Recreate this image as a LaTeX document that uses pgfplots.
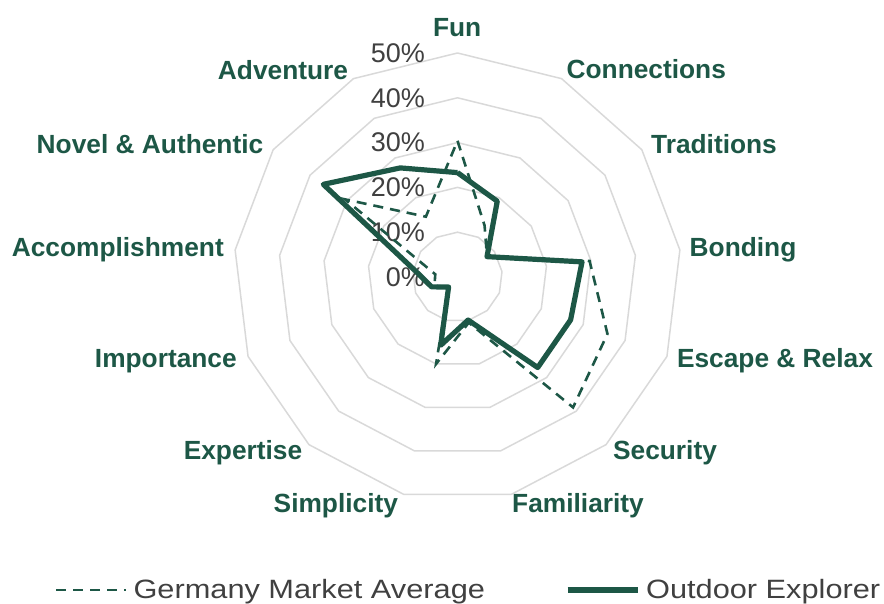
\documentclass[border=0pt]{standalone}
\usepackage{pgfplots}
\pgfplotsset{compat=1.18}
\usepackage{pgfplotstable}
\usepackage{fontspec}
\setmainfont{Liberation Sans}
\newfontfamily\legendfont[FakeStretch=1.16]{Liberation Sans}
\definecolor{dgreen}{RGB}{29,87,70}
\definecolor{gridgray}{RGB}{217,217,217}
\definecolor{txtgray}{RGB}{64,64,64}

% angle (deg), Germany Market Average (%), Outdoor Explorer (%)
\pgfplotstableread{
ang     germany outdoor
90      30.4    23.3
62.31   13.0    19.1
34.62   8.0     8.0
6.92    29.7    28.0
-20.77  35.8    27.0
-48.46  38.9    27.0
-76.15  10.5    9.9
-103.85 20.0    15.7
-131.54 3.0     3.0
-159.23 5.5     6.2
-186.92 5.0     9.2
-214.62 30.5    36.4
-242.31 15.2    27.5
-270    30.4    23.3
}\radardata

\begin{document}
\begin{tikzpicture}
\begin{axis}[
  x=4.48pt, y=4.48pt,
  xmin=-102.12, xmax=95.20, ymin=-72.77, ymax=61.83,
  axis lines=none, ticks=none, clip=false,
  legend columns=2,
  legend style={draw=none, fill=none, at={(0.0622,0.0216)}, anchor=west,
    inner sep=0pt, outer sep=0pt,
    nodes={inner sep=0pt, text=txtgray},
    font=\legendfont\fontsize{26.5}{30}\selectfont,
    /tikz/every odd column/.append style={column sep=6pt},
    /tikz/every even column/.append style={column sep=80pt}},
  legend image code/.code={\draw[#1] (0pt,0pt) -- (70pt,0pt);},
]
% polygonal grid rings
\addplot[gridgray, line width=1.5pt, data cs=polar, forget plot] coordinates {(90,10) (62.31,10) (34.62,10) (6.92,10) (-20.77,10) (-48.46,10) (-76.15,10) (-103.85,10) (-131.54,10) (-159.23,10) (-186.92,10) (-214.62,10) (-242.31,10) (-270,10)};
\addplot[gridgray, line width=1.5pt, data cs=polar, forget plot] coordinates {(90,20) (62.31,20) (34.62,20) (6.92,20) (-20.77,20) (-48.46,20) (-76.15,20) (-103.85,20) (-131.54,20) (-159.23,20) (-186.92,20) (-214.62,20) (-242.31,20) (-270,20)};
\addplot[gridgray, line width=1.5pt, data cs=polar, forget plot] coordinates {(90,30) (62.31,30) (34.62,30) (6.92,30) (-20.77,30) (-48.46,30) (-76.15,30) (-103.85,30) (-131.54,30) (-159.23,30) (-186.92,30) (-214.62,30) (-242.31,30) (-270,30)};
\addplot[gridgray, line width=1.5pt, data cs=polar, forget plot] coordinates {(90,40) (62.31,40) (34.62,40) (6.92,40) (-20.77,40) (-48.46,40) (-76.15,40) (-103.85,40) (-131.54,40) (-159.23,40) (-186.92,40) (-214.62,40) (-242.31,40) (-270,40)};
\addplot[gridgray, line width=1.5pt, data cs=polar, forget plot] coordinates {(90,50) (62.31,50) (34.62,50) (6.92,50) (-20.77,50) (-48.46,50) (-76.15,50) (-103.85,50) (-131.54,50) (-159.23,50) (-186.92,50) (-214.62,50) (-242.31,50) (-270,50)};

% ring labels
\node[anchor=east, inner sep=0pt, text=txtgray, font=\fontsize{27}{30}\selectfont] at (axis cs:-7.25,0) {0\%};
\node[anchor=east, inner sep=0pt, text=txtgray, font=\fontsize{27}{30}\selectfont] at (axis cs:-7.25,10) {10\%};
\node[anchor=east, inner sep=0pt, text=txtgray, font=\fontsize{27}{30}\selectfont] at (axis cs:-7.25,20) {20\%};
\node[anchor=east, inner sep=0pt, text=txtgray, font=\fontsize{27}{30}\selectfont] at (axis cs:-7.25,30) {30\%};
\node[anchor=east, inner sep=0pt, text=txtgray, font=\fontsize{27}{30}\selectfont] at (axis cs:-7.25,40) {40\%};
\node[anchor=east, inner sep=0pt, text=txtgray, font=\fontsize{27}{30}\selectfont] at (axis cs:-7.25,50) {50\%};

% series
\addplot[dgreen, line width=2.6pt, dash pattern=on 10pt off 7pt, data cs=polar] table[x=ang, y=germany] {\radardata};
\addlegendentry{Germany Market Average}
\addplot[dgreen, line width=5.2pt, line join=round, data cs=polar] table[x=ang, y=outdoor] {\radardata};
\addlegendentry{Outdoor Explorer}

% category labels
\tikzset{cat/.style={anchor=base, inner sep=0pt, text=dgreen, font=\bfseries\fontsize{26.3}{30}\selectfont}}
\node[cat] at (axis cs:-0.07,53.79) {Fun};
\node[cat] at (axis cs:42.14,44.20) {Connections};
\node[cat] at (axis cs:57.25,27.63) {Traditions};
\node[cat] at (axis cs:63.73,4.64) {Bonding};
\node[cat] at (axis cs:70.87,-20.13) {Escape \& Relax};
\node[cat] at (axis cs:46.32,-40.67) {Security};
\node[cat] at (axis cs:26.9,-52.50) {Familiarity};
\node[cat] at (axis cs:-27.16,-52.50) {Simplicity};
\node[cat] at (axis cs:-47.88,-40.67) {Expertise};
\node[cat] at (axis cs:-65.1,-20.13) {Importance};
\node[cat] at (axis cs:-75.82,4.53) {Accomplishment};
\node[cat] at (axis cs:-68.64,27.63) {Novel \& Authentic};
\node[cat] at (axis cs:-38.95,44.15) {Adventure};

\coordinate (bl) at (axis cs:-102.12,-72.77);
\coordinate (tr) at (axis cs:95.20,61.83);
\end{axis}
\pgfresetboundingbox
\useasboundingbox (bl) rectangle (tr);
\end{tikzpicture}
\end{document}
